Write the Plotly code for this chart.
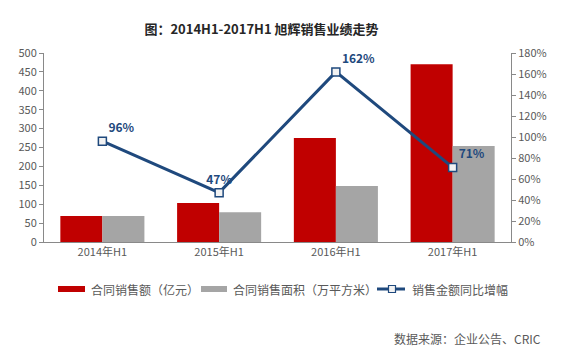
import plotly.graph_objects as go

categories = ["2014年H1", "2015年H1", "2016年H1", "2017年H1"]
amount = [69, 103, 275, 470]          # 合同销售额（亿元）
area = [69, 79, 148, 254]             # 合同销售面积（万平方米）
growth = [96, 47, 162, 71]            # 销售金额同比增幅 (%)
growth_labels = ["96%", "47%", "162%", "71%"]
series_names = ["合同销售额（亿元）", "合同销售面积（万平方米）", "销售金额同比增幅"]

FONT = "Noto Sans CJK SC, Microsoft YaHei, sans-serif"
AX = "#898989"
TICK = "#595959"
BLUE = "#1F497D"
RED = "#C00000"
GRAY = "#A5A5A5"

# plot area in pixels (for converting legend positions to paper coords)
L, R, T, B = 44, 511, 53, 242
def px(x):
    return (x - L) / (R - L)
def py(y):
    return (B - y) / (B - T)

fig = go.Figure()
fig.add_trace(go.Bar(x=categories, y=amount, name=series_names[0], showlegend=False,
                     marker=dict(color=RED, line=dict(width=0))))
fig.add_trace(go.Bar(x=categories, y=area, name=series_names[1], showlegend=False,
                     marker=dict(color=GRAY, line=dict(width=0))))
fig.add_trace(go.Scatter(x=categories, y=growth, name=series_names[2], yaxis="y2",
                         showlegend=False,
                         mode="lines+markers+text", text=growth_labels,
                         textposition=["top right", "top center", "top right", "top right"],
                         textfont=dict(color=BLUE, size=12, family=FONT, weight="bold"),
                         line=dict(color=BLUE, width=3),
                         marker=dict(symbol="square", size=8, color="#F2F2F2",
                                     line=dict(color=BLUE, width=1.5))))

shapes = [
    dict(type="rect", xref="paper", yref="paper", x0=px(58), x1=px(85), y0=py(286), y1=py(292),
         fillcolor=RED, line=dict(width=0)),
    dict(type="rect", xref="paper", yref="paper", x0=px(201), x1=px(227), y0=py(286), y1=py(292),
         fillcolor=GRAY, line=dict(width=0)),
    dict(type="line", xref="paper", yref="paper", x0=px(377), x1=px(405), y0=py(289), y1=py(289),
         line=dict(color=BLUE, width=3)),
    dict(type="rect", xref="paper", yref="paper", x0=px(388.5), x1=px(395.5), y0=py(285.5), y1=py(292.5),
         fillcolor="#F2F2F2", line=dict(color=BLUE, width=1.2)),
]

annotations = [
    dict(text=series_names[0], xref="paper", yref="paper", x=px(89), xanchor="left",
         y=py(289), yanchor="middle", showarrow=False, font=dict(size=12, color=TICK)),
    dict(text=series_names[1], xref="paper", yref="paper", x=px(231), xanchor="left",
         y=py(289), yanchor="middle", showarrow=False, font=dict(size=12, color=TICK)),
    dict(text=series_names[2], xref="paper", yref="paper", x=px(410), xanchor="left",
         y=py(289), yanchor="middle", showarrow=False, font=dict(size=12, color=TICK)),
    dict(text="数据来源：企业公告、CRIC", xref="paper", yref="paper",
         x=px(543), xanchor="right", y=py(338), yanchor="middle", showarrow=False,
         font=dict(size=12, color=TICK)),
]

fig.update_layout(
    width=563, height=353,
    margin=dict(l=L, r=563 - R, t=T, b=353 - B),
    paper_bgcolor="white", plot_bgcolor="white",
    font=dict(family=FONT, size=11, color=TICK),
    barmode="group", bargap=0.28, bargroupgap=0,
    showlegend=False,
    title=dict(text="<b>图：2014H1-2017H1 旭辉销售业绩走势</b>", x=261.5 / 563, xanchor="center",
               y=1 - 29 / 353, yanchor="middle",
               font=dict(size=13, color="#262626", family=FONT)),
    xaxis=dict(showline=True, linecolor=AX, linewidth=1, ticks="", showgrid=False,
               tickfont=dict(size=11, color=TICK)),
    yaxis=dict(range=[0, 500], dtick=50, showline=True, linecolor=AX, linewidth=1,
               ticks="outside", ticklen=4, tickcolor=AX, showgrid=False, zeroline=False,
               tickfont=dict(size=11, color=TICK)),
    yaxis2=dict(range=[0, 180], dtick=20, overlaying="y", side="right", showline=True,
                linecolor=AX, linewidth=1, ticks="outside", ticklen=4, tickcolor=AX,
                showgrid=False, zeroline=False, ticksuffix="%",
                tickfont=dict(size=11, color=TICK)),
    shapes=shapes,
    annotations=annotations,
)

fig.write_html("out.html")
